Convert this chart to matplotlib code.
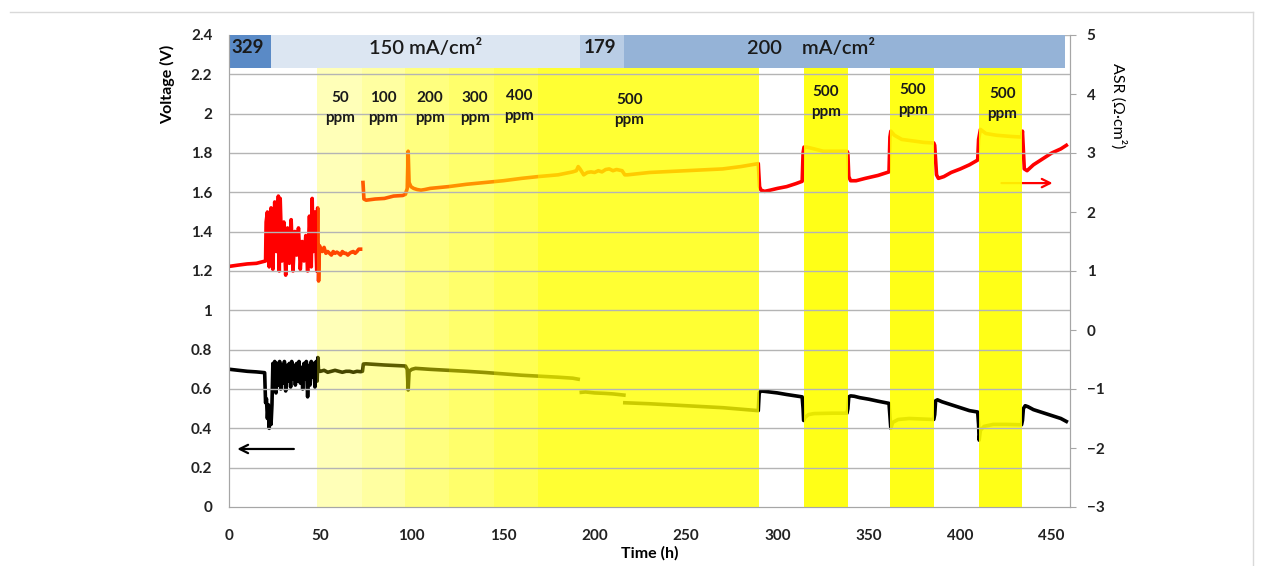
import numpy as np
import matplotlib
import matplotlib.pyplot as plt
from matplotlib.transforms import blended_transform_factory
from matplotlib.lines import Line2D

plt.rcParams['font.family'] = ['Lato', 'DejaVu Sans']

# ---- data ----
# cell voltage (V), left axis
volt_t = [0.5, 5, 10, 15, 19.5, 20, 20.5, 21, 21.5, 22, 22.5, 23, 23.5, 24,
          24.5, 25, 25.7, 26.3, 27, 27.7, 28.3, 29, 29.7, 30.3, 31, 31.7, 32.3, 33, 33.7, 34.3,
          35, 35.7, 36.3, 37, 37.7, 38.3, 39, 39.7, 40.3, 41, 41.7, 42.3, 43, 43.7, 44.3,
          45, 45.7, 46.3, 47, 47.7, 48.2, 48.6, 49,
          50, 52, 54, 56, 58, 60, 62, 64, 66, 68, 70, 72, 73, 73.5, 75, 80, 85, 90, 96.5,
          97.5, 98, 98.5, 100, 102, 105, 110, 120, 130, 140, 150, 160, 170, 180, 188, 191,
          191.8, 192.7, 195, 200, 205, 210, 216, 216.2, 216.5, 230, 250, 270, 289.5,
          290, 291, 293, 300, 305, 310, 313.5,
          314, 314.3, 315, 317, 320, 330, 338,
          338.5, 339, 340, 342, 345, 350, 355, 361,
          361.5, 362, 363, 366, 372, 380, 385.5,
          386, 386.5, 387.5, 390, 395, 400, 405, 409.5,
          410, 410.3, 411, 413, 418, 425, 433.5,
          434, 434.5, 435.5, 437, 440, 445, 450, 455, 458]
volt_v = [0.70, 0.695, 0.69, 0.687, 0.683, 0.53, 0.55, 0.45, 0.52, 0.40, 0.48, 0.42, 0.52, 0.73,
          0.60, 0.74, 0.58, 0.73, 0.62, 0.74, 0.60, 0.72, 0.63, 0.74, 0.59, 0.72, 0.64, 0.73, 0.61, 0.74,
          0.65, 0.72, 0.62, 0.73, 0.64, 0.74, 0.63, 0.71, 0.60, 0.73, 0.65, 0.74, 0.56, 0.72, 0.62,
          0.74, 0.66, 0.73, 0.61, 0.74, 0.64, 0.76, 0.69,
          0.69, 0.695, 0.685, 0.69, 0.695, 0.69, 0.685, 0.69, 0.69, 0.685, 0.69, 0.688, 0.69, 0.727, 0.728, 0.725, 0.722, 0.72, 0.717,
          0.70, 0.595, 0.69, 0.70, 0.705, 0.703, 0.70, 0.695, 0.69, 0.684, 0.677, 0.67, 0.665, 0.66, 0.655, 0.65,
          np.nan, 0.583, 0.585, 0.58, 0.578, 0.575, 0.569, np.nan, 0.530, 0.525, 0.515, 0.505, 0.49,
          0.58, 0.59, 0.588, 0.58, 0.572, 0.565, 0.56,
          0.50, 0.44, 0.455, 0.47, 0.475, 0.477, 0.477,
          0.50, 0.56, 0.565, 0.563, 0.556, 0.548, 0.538, 0.527,
          0.46, 0.40, 0.43, 0.445, 0.45, 0.447, 0.445,
          0.47, 0.54, 0.545, 0.535, 0.52, 0.505, 0.49, 0.483,
          0.42, 0.34, 0.39, 0.41, 0.42, 0.42, 0.418,
          0.44, 0.50, 0.515, 0.51, 0.495, 0.48, 0.465, 0.45, 0.435]

# area specific resistance (ohm cm2), right axis
asr_t = [0.5, 5, 10, 15, 19.8,
         20.0, 20.3, 21, 22, 23, 24, 25, 26, 27, 27.5, 28, 29, 30, 31, 32, 33, 34, 35, 36, 37,
         38, 39, 40, 41, 42, 43, 44, 45, 45.5, 46, 47, 48, 48.5, 49, 49.5,
         50, 51, 52, 53, 54, 55, 56, 57, 58, 59, 60, 61, 62, 63, 64, 65, 66, 67, 68, 69, 70, 71, 72,
         72.7,
         73.3, 73.5, 73.8, 75, 80, 85, 90, 95, 96.5, 97.5, 98, 98.5, 99.5, 101, 103, 105, 107, 110,
         120, 130, 140, 150, 160, 169, 180, 188, 190, 191, 192, 194, 196, 198, 200, 202, 204, 206,
         208, 210, 212, 215, 216.5, 218, 230, 250, 270, 280, 289.5,
         290.2, 291, 293, 296, 300, 305, 310, 313.5,
         314, 314.5, 316, 320, 325, 330, 335, 338,
         338.5, 339, 340, 343, 348, 355, 361,
         361.5, 362, 364, 368, 375, 380, 385.5,
         386, 387, 388, 391, 395, 400, 405, 409.5,
         410, 411, 414, 420, 428, 433.5,
         434, 435, 436.5, 440, 445, 450, 455, 458]
asr_v = [1.08, 1.10, 1.12, 1.13, 1.17,
         1.17, 1.83, 2.00, 1.07, 2.07, 1.03, 2.17, 1.33, 2.27, 1.00, 2.23, 1.17, 1.83, 0.93, 1.73,
         1.13, 1.87, 1.00, 1.67, 1.27, 1.73, 1.03, 1.50, 1.17, 1.60, 1.00, 1.93, 1.07, 2.23, 1.33,
         2.00, 1.00, 2.07, 0.83, 1.43,
         1.37, 1.33, 1.40, 1.30, 1.33, 1.30, 1.27, 1.33, 1.30, 1.32, 1.30, 1.27, 1.33, 1.30, 1.30,
         1.27, 1.30, 1.32, 1.33, 1.30, 1.33, 1.37, 1.37,
         np.nan,
         2.50, 2.40, 2.22, 2.20, 2.22, 2.23, 2.27, 2.28, 2.30, 2.40, 3.03, 2.50, 2.43, 2.40, 2.38,
         2.37, 2.38, 2.40, 2.43, 2.47, 2.50, 2.53, 2.57, 2.60, 2.63, 2.68, 2.70, 2.77, 2.73, 2.63,
         2.67, 2.68, 2.67, 2.70, 2.68, 2.72, 2.73, 2.70, 2.72, 2.70, 2.63, 2.63, 2.67, 2.70, 2.73,
         2.77, 2.82,
         2.43, 2.37, 2.35, 2.37, 2.40, 2.43, 2.48, 2.52,
         3.00, 3.10, 3.10, 3.07, 3.03, 3.03, 3.03, 3.03,
         3.00, 2.60, 2.53, 2.53, 2.57, 2.62, 2.68,
         3.27, 3.37, 3.30, 3.23, 3.20, 3.18, 3.17,
         3.13, 2.63, 2.57, 2.60, 2.67, 2.73, 2.80, 2.88,
         3.23, 3.40, 3.33, 3.30, 3.28, 3.27,
         3.37, 2.73, 2.70, 2.80, 2.90, 3.00, 3.07, 3.13]

# H2S exposure steps (ppm), start/end times in h
ppm_labels = ['50', '100', '200', '300', '400', '500', '500', '500', '500']
ppm_start = [48.3, 73, 96.5, 120.5, 145, 169, 314.5, 361.7, 410]
ppm_end = [73, 96.5, 120.5, 145, 169, 289.8, 338.6, 385.8, 433.6]
ppm_alpha = [0.28, 0.37, 0.5, 0.58, 0.68, 0.8, 0.91, 0.91, 0.91]
ppm_text_x = [61, 84.5, 110, 134.5, 158.6, 219, 326.6, 374, 423]
ppm_text_y = [2.03, 2.03, 2.03, 2.03, 2.04, 2.02, 2.06, 2.07, 2.05]

# current density blocks along the top
cd_start = [0, 23, 192, 216]
cd_end = [23, 192, 216, 457.5]
cd_colors = ['#5a8ac6', '#dce6f2', '#b9cde5', '#95b3d7']

# ---- figure ----
fig = plt.figure(figsize=(12.63, 5.66), dpi=100)
ax1 = fig.add_axes([229 / 1263, 1 - 507 / 566, (1070 - 229) / 1263, (507 - 35) / 566])
ax2 = ax1.twinx()

ax1.set_xlim(0, 460)
ax1.set_ylim(0, 2.4)
ax2.set_ylim(-3, 5)
ax1.set_xticks(np.arange(0, 451, 50))
ax1.set_yticks(np.arange(0, 2.41, 0.2))
ax1.set_yticklabels(['0', '0.2', '0.4', '0.6', '0.8', '1', '1.2', '1.4', '1.6', '1.8', '2', '2.2', '2.4'])
ax2.set_yticks(np.arange(-3, 6, 1))

axcol = '#a6a6a6'
for ax in (ax1, ax2):
    for s in ax.spines.values():
        s.set_color(axcol)
    ax.spines['top'].set_visible(False)
ax1.tick_params(axis='both', length=0, labelsize=11, pad=12)
ax1.tick_params(axis='x', pad=16)
ax2.tick_params(axis='y', length=4, color=axcol, labelsize=11, pad=8)
for lab in ax1.get_xticklabels() + ax1.get_yticklabels() + ax2.get_yticklabels():
    lab.set_fontweight('bold')
    lab.set_color('#222222')

# voltage curve (below everything in ax2)
ax1.plot(volt_t, volt_v, color='black', lw=2.6, solid_joinstyle='round', zorder=2)
ax1.annotate('', xy=(3, 0.295), xytext=(37, 0.295),
             arrowprops=dict(arrowstyle='->,head_length=0.6,head_width=0.3', color='black', lw=1.6))

# ASR curve
ax2.plot(asr_t, asr_v, color='#ff0000', lw=2.6, solid_joinstyle='round', zorder=1)
ax2.annotate('', xy=(452, 2.49), xytext=(421, 2.49),
             arrowprops=dict(arrowstyle='->,head_length=0.6,head_width=0.3', color='#ff0000', lw=1.6),
             zorder=1)

# yellow H2S bands drawn over the curves
for x0, x1, a in zip(ppm_start, ppm_end, ppm_alpha):
    ax2.axvspan(x0, x1, ymin=0, ymax=0.93, color='#ffff00', alpha=a, lw=0, zorder=1.5)

# gridlines on top of the bands (left axis values)
gtr = blended_transform_factory(ax2.transAxes, ax1.transData)
for v in np.arange(0.2, 2.41, 0.2):
    ax2.plot([0, 1], [v, v], color='#b4b4b4', lw=1, transform=gtr, zorder=1.7)

# current density bar
for x0, x1, c in zip(cd_start, cd_end, cd_colors):
    ax2.axvspan(x0, x1, ymin=0.93, ymax=1.0, color=c, lw=0, zorder=2)

ttr = ax1.transData
bar_y = 2.335
ax2.text(1.5, bar_y, '329', transform=ttr, ha='left', va='center', fontsize=13.5,
         fontweight='bold', color='#1a1a1a', zorder=3)
ax2.text(107.6, bar_y, '150 mA/cm²', transform=ttr, ha='center', va='center', fontsize=14.5,
         fontweight='semibold', color='#1a1a1a', zorder=3)
ax2.text(194, bar_y, '179', transform=ttr, ha='left', va='center', fontsize=13.5,
         fontweight='bold', color='#1a1a1a', zorder=3)
ax2.text(318.6, bar_y, '200    mA/cm²', transform=ttr, ha='center', va='center', fontsize=14.5,
         fontweight='semibold', color='#1a1a1a', zorder=3)

for lab, x, y in zip(ppm_labels, ppm_text_x, ppm_text_y):
    ax2.text(x, y, lab + '\nppm', transform=ttr, ha='center', va='center', fontsize=11,
             fontweight='bold', color='#1a1a1a', linespacing=1.55, zorder=3)

# axis titles
ax1.set_xlabel('Time (h)', fontsize=11.5, fontweight='bold', labelpad=2)
ax1.text(-0.073, 0.895, 'Voltage (V)', transform=ax1.transAxes, rotation=90, ha='center',
         va='center', fontsize=11.5, fontweight='bold')
ax2.text(1.057, 0.85, 'ASR (Ω·cm²)', transform=ax2.transAxes, rotation=270, ha='center',
         va='center', fontsize=11.5)

# faint chart-area border
fig.add_artist(Line2D([10 / 1263, 1253 / 1263], [1 - 12 / 566, 1 - 12 / 566], color='#d9d9d9', lw=1))
fig.add_artist(Line2D([1253 / 1263, 1253 / 1263], [0, 1 - 12 / 566], color='#d9d9d9', lw=1))

fig.savefig('out.png', dpi=100)
